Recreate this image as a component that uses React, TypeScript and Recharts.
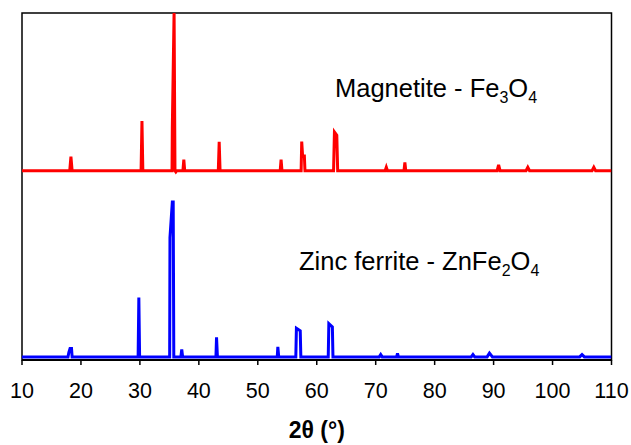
import { LineChart, Line, XAxis, YAxis, ReferenceArea } from "recharts";

// 2θ tick marks along the bottom axis
const thetaTicks = [10, 20, 30, 40, 50, 60, 70, 80, 90, 100, 110];

// Magnetite - Fe3O4 pattern, [2θ, relative intensity]
const magnetitePoints: [number, number][] = [
    [10, 0],
    [18.1, 0], [18.3, 9], [18.5, 0],
    [30.2, 0], [30.35, 31.5], [30.5, 0],
    [35.45, 0], [35.5, 27.5], [35.8, 101], [35.95, 0], [36.1, -0.8], [36.25, 0],
    [37.3, 0], [37.45, 7], [37.6, 0],
    [43.3, 0], [43.45, 18.3], [43.6, 0],
    [53.8, 0], [53.95, 7], [54.1, 0],
    [57.35, 0], [57.45, 18.5], [57.6, 9.4], [57.9, 9.4], [58.0, 0],
    [62.85, 0], [63.0, 24.6], [63.4, 22.5], [63.55, 0],
    [71.6, 0], [71.8, 2.2], [72.0, 0],
    [74.8, 0], [74.95, 5.2], [75.1, 0],
    [90.6, 0], [90.85, 3.7], [91.1, 0],
    [95.5, 0], [95.8, 2.2], [96.1, 0],
    [106.7, 0], [107.0, 2.2], [107.3, 0],
    [110, 0],
];

// Zinc ferrite - ZnFe2O4 pattern, [2θ, relative intensity]
const zincFerritePoints: [number, number][] = [
    [10, 0],
    [17.8, 0], [17.95, 3], [18.15, 5.4], [18.4, 5.4], [18.5, 0],
    [29.7, 0], [29.82, 38.3], [29.95, 0],
    [35.05, 0], [35.1, 77], [35.5, 100], [35.65, 100], [35.75, 0],
    [36.95, 0], [37.1, 4.8], [37.25, 0],
    [42.9, 0], [43.0, 12.7], [43.15, 0],
    [53.3, 0], [53.4, 6.5], [53.55, 0],
    [56.45, 0], [56.55, 18.5], [57.2, 16.8], [57.3, 0],
    [61.95, 0], [62.05, 21.5], [62.65, 19.4], [62.75, 0],
    [70.6, 0], [70.85, 1.5], [71.1, 0],
    [73.55, 0], [73.7, 2.3], [73.85, 0],
    [86.2, 0], [86.5, 1.5], [86.8, 0],
    [88.9, 0], [89.3, 2.4], [89.8, 0],
    [104.6, 0], [105.0, 1.5], [105.4, 0],
    [110, 0],
];

const magnetiteData = magnetitePoints.map(([x, y]) => ({ x, y }));
const zincFerriteData = zincFerritePoints.map(([x, y]) => ({ x, y }));

const font = "'Liberation Sans', Arial, sans-serif";

export default function App() {
    return (
        <div style={{ width: 631, height: 445 }}>
            <style>{`body { margin: 0; }`}</style>
            <LineChart
                width={631}
                height={445}
                margin={{ top: 13, right: 19.5, left: 22, bottom: 0 }}
            >
                <XAxis
                    dataKey="x"
                    type="number"
                    domain={[10, 110]}
                    ticks={thetaTicks}
                    allowDataOverflow
                    height={85}
                    tickSize={5}
                    tickMargin={18}
                    axisLine={{ stroke: "#000", strokeWidth: 2 }}
                    tickLine={{ stroke: "#000", strokeWidth: 1.5 }}
                    tick={{ fill: "#000", fontSize: 21.5, fontFamily: font }}
                    label={{
                        value: "2θ (°)",
                        position: "insideBottom",
                        offset: 7,
                        fill: "#000",
                        fontSize: 23,
                        fontWeight: "bold",
                        fontFamily: font,
                    }}
                />
                <YAxis yAxisId="blue" type="number" domain={[-2, 222]} allowDataOverflow hide />
                <YAxis yAxisId="red" type="number" domain={[-120, 100]} allowDataOverflow hide />
                <ReferenceArea
                    yAxisId="blue"
                    x1={10}
                    x2={110}
                    y1={-2}
                    y2={222}
                    fill="none"
                    fillOpacity={0}
                    stroke="#000"
                    strokeWidth={1.5}
                    ifOverflow="visible"
                />
                <Line
                    yAxisId="red"
                    data={magnetiteData}
                    dataKey="y"
                    type="linear"
                    stroke="#ff0000"
                    strokeWidth={3}
                    dot={false}
                    activeDot={false}
                    isAnimationActive={false}
                />
                <Line
                    yAxisId="blue"
                    data={zincFerriteData}
                    dataKey="y"
                    type="linear"
                    stroke="#0000ff"
                    strokeWidth={3}
                    dot={false}
                    activeDot={false}
                    isAnimationActive={false}
                />
                <text x={335} y={97} fontSize={25.5} fontFamily={font} fill="#000">
                    Magnetite - Fe
                    <tspan fontSize={16} dy={6}>3</tspan>
                    <tspan dy={-6}>O</tspan>
                    <tspan fontSize={16} dy={6}>4</tspan>
                </text>
                <text x={299} y={269.5} fontSize={25.5} fontFamily={font} fill="#000">
                    Zinc ferrite - ZnFe
                    <tspan fontSize={16} dy={6}>2</tspan>
                    <tspan dy={-6}>O</tspan>
                    <tspan fontSize={16} dy={6}>4</tspan>
                </text>
            </LineChart>
        </div>
    );
}
